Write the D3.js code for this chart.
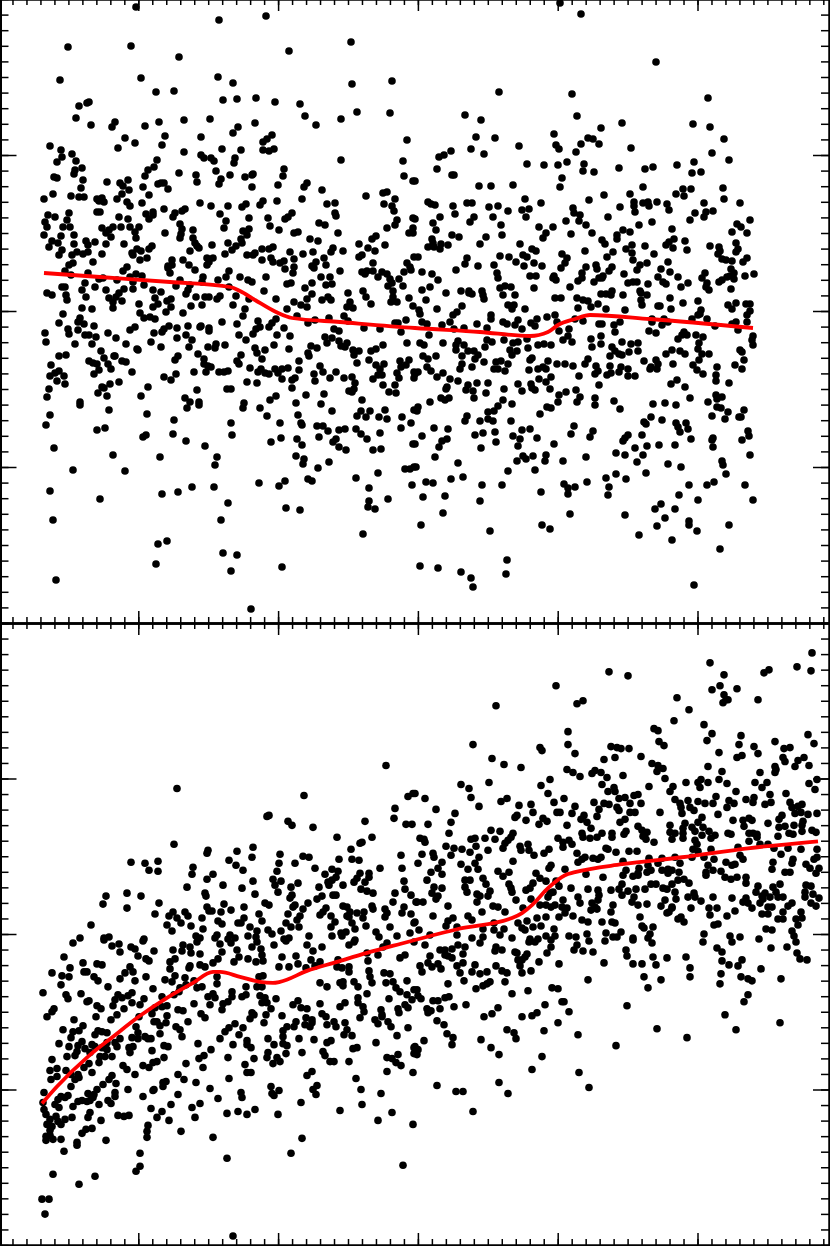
<!DOCTYPE html>
<html>
<head>
<meta charset="utf-8">
<script src="https://cdn.jsdelivr.net/npm/d3@7"></script>
<style>
	html, body { margin: 0; padding: 0; background: #fff; }
	svg { display: block; }
</style>
</head>
<body>
<div id="chart"></div>
<script>
// values, the chart has no labels so the units are arbitrary
const xMajorTicks = [-1.5, 138.3, 278.1, 417.9, 557.7, 697.5];
const yMajorTicks = [-156, 0, 156];

const topCurveX = [44, 100, 170, 230, 240, 255, 276, 292, 340, 415, 480, 530, 548, 558, 575, 590, 650, 753];
const topCurveY = [38, 34, 29, 24, 20, 11, -1, -7, -11, -17, -21, -25, -21, -14, -8, -4, -8, -17];

const bottomCurveX = [42, 57, 88, 113, 140, 167, 193, 213, 220, 240, 260, 273, 280, 307, 337, 367, 400, 415, 458, 512, 522, 532, 548, 565, 575, 622, 682, 748, 818];
const bottomCurveY = [-170, -153, -123, -103, -82, -64, -49, -38, -38, -43, -48, -49, -48, -37, -28, -19, -10, -6, 5, 16, 21, 29, 46, 59, 62, 70, 77, 86, 93];

const topScatter = [
[136,304],[219,291],[266,295],[68,264],[131,265],[179,254],[289,260],[351,269],[60,231],[141,233],[218,234],[233,228],[352,227],[392,230],[156,219],[174,220],[79,205],[87,208],[89,209],[223,211],[237,212],[256,213],[275,209],[300,207],[357,199],[390,198],[76,193],[91,186],[112,184],[115,189],[145,185],[159,189],[184,191],[210,192],[255,188],[238,184],[233,178],[305,195],[316,186],[341,192],[125,173],[135,168],[118,163],[165,175],[162,166],[201,174],[50,165],[61,161],[62,154],[57,149],[72,157],[76,150],[82,143],[75,141],[74,137],[54,134],[57,133],[83,131],[81,123],[53,117],[44,112],[71,115],[79,114],[84,114],[107,129],[120,128],[123,125],[128,131],[129,121],[122,117],[117,112],[97,112],[102,113],[99,110],[104,109],[143,124],[149,116],[145,135],[148,141],[154,144],[157,151],[184,159],[179,138],[158,127],[161,128],[164,128],[168,122],[196,136],[197,129],[201,156],[204,153],[211,153],[214,150],[216,140],[230,136],[222,162],[235,153],[234,148],[241,161],[221,132],[219,127],[245,134],[252,136],[253,137],[252,124],[263,169],[267,172],[272,176],[263,161],[269,160],[274,162],[284,142],[283,135],[278,126],[307,128],[304,124],[322,121],[302,112],[341,151],[403,150],[404,135],[413,130],[407,171],[366,115],[383,118],[387,119],[395,112],[327,107],[335,108],[263,110],[260,106],[277,110],[246,107],[242,104],[228,105],[211,105],[200,108],[185,102],[182,100],[175,98],[173,94],[164,102],[142,108],[127,109],[130,105],[97,99],[100,99],[69,98],[48,96],[55,94],[45,89],[47,84],[67,91],[63,84],[70,84],[119,94],[128,92],[146,97],[149,92],[153,99],[153,96],[220,97],[226,90],[224,83],[249,93],[268,93],[270,85],[285,92],[288,94],[292,98],[335,98],[336,95],[384,107],[392,105],[394,100],[397,91],[395,86],[387,83],[413,93],[319,88],[325,86],[279,81],[294,78],[298,79],[338,78],[180,87],[182,82],[181,77],[180,73],[193,81],[165,78],[139,84],[130,84],[135,79],[136,73],[121,84],[113,84],[109,81],[106,78],[111,74],[102,83],[44,76],[61,75],[74,76],[52,70],[58,68],[49,64],[62,61],[59,56],[74,67],[86,70],[88,66],[95,69],[106,67],[124,67],[72,56],[77,59],[83,57],[88,59],[102,57],[93,49],[132,58],[133,56],[137,62],[141,60],[140,51],[147,53],[149,62],[152,65],[193,73],[195,68],[197,65],[199,63],[190,60],[212,66],[228,68],[232,61],[236,65],[241,72],[242,68],[243,80],[249,82],[247,76],[225,57],[247,56],[253,56],[255,58],[262,62],[269,62],[273,64],[290,59],[294,52],[310,72],[318,70],[313,59],[303,57],[333,63],[331,59],[343,60],[324,53],[359,67],[372,72],[376,75],[385,66],[368,63],[375,60],[409,78],[413,83],[413,78],[362,56],[359,54],[373,48],[414,54],[172,51],[168,45],[172,46],[168,43],[170,38],[183,51],[189,46],[195,41],[207,46],[207,53],[213,53],[209,49],[229,40],[262,51],[271,53],[273,49],[280,48],[284,50],[285,42],[294,44],[293,38],[312,45],[316,49],[314,43],[326,46],[340,40],[127,44],[123,40],[65,40],[69,46],[73,48],[88,38],[71,36],[362,39],[367,40],[365,37],[373,40],[378,34],[382,39],[387,37],[390,32],[404,39],[407,48],[410,44],[411,41],[399,32],[321,34],[330,34],[312,28],[266,34],[240,34],[248,31],[252,29],[226,34],[218,31],[203,34],[202,29],[180,31],[130,34],[136,37],[142,35],[133,29],[103,33],[99,32],[117,31],[85,28],[62,24],[65,24],[95,24],[82,21],[144,26],[133,22],[124,22],[119,18],[106,21],[153,21],[161,19],[176,25],[190,26],[188,21],[186,17],[196,14],[205,14],[209,14],[220,15],[217,12],[229,24],[236,15],[264,20],[287,27],[291,28],[305,23],[326,26],[332,27],[312,17],[307,12],[348,18],[363,20],[366,14],[388,25],[392,28],[403,25],[393,20],[393,14],[391,9],[397,9],[409,13],[47,18],[52,16],[66,16],[67,11],[86,14],[109,13],[116,14],[113,9],[122,10],[139,7],[155,13],[158,7],[153,4],[167,10],[171,12],[171,4],[191,5],[202,6],[233,6],[245,2],[249,12],[276,12],[294,9],[301,6],[307,4],[322,11],[328,14],[331,11],[350,9],[347,4],[353,3],[371,7],[82,3],[92,2],[113,3],[287,2],[413,5],
[560,308],[581,297],[656,249],[499,219],[572,217],[708,213],[465,196],[481,191],[577,195],[601,183],[622,188],[693,187],[710,184],[554,177],[476,174],[495,173],[588,173],[593,172],[599,167],[581,167],[724,172],[519,165],[471,162],[556,166],[559,162],[631,163],[451,160],[444,156],[439,154],[484,157],[576,159],[712,158],[729,151],[694,149],[527,147],[544,146],[558,146],[567,149],[584,147],[677,146],[619,143],[645,142],[653,144],[583,140],[594,139],[437,142],[452,136],[454,136],[692,138],[701,139],[562,133],[560,124],[479,125],[491,125],[513,126],[415,130],[643,124],[723,123],[691,122],[683,122],[676,117],[684,115],[630,117],[604,116],[525,112],[589,111],[724,112],[541,108],[428,109],[431,107],[435,106],[467,108],[472,108],[453,105],[489,104],[498,105],[634,109],[634,105],[643,108],[648,109],[649,105],[657,109],[667,107],[669,101],[704,108],[740,108],[620,104],[573,103],[574,98],[580,96],[635,99],[522,101],[529,102],[508,100],[455,97],[440,94],[493,94],[526,94],[474,94],[470,89],[433,88],[436,81],[415,92],[608,94],[713,100],[706,99],[704,94],[695,98],[690,91],[579,90],[586,86],[566,90],[501,86],[502,76],[539,84],[553,84],[546,78],[543,73],[571,77],[592,78],[623,81],[630,79],[617,76],[617,72],[639,86],[652,89],[672,82],[750,91],[737,87],[741,84],[732,79],[747,78],[452,76],[459,74],[486,74],[480,67],[432,72],[433,68],[428,64],[434,64],[440,62],[441,67],[448,66],[520,67],[532,62],[536,60],[602,71],[605,67],[626,62],[632,66],[632,58],[645,65],[674,72],[669,69],[666,66],[673,63],[685,70],[687,61],[710,65],[736,68],[738,62],[736,59],[719,64],[720,60],[718,57],[722,52],[726,51],[732,50],[418,54],[467,53],[465,47],[478,45],[500,55],[509,54],[516,49],[523,56],[527,54],[524,45],[534,48],[542,45],[494,46],[585,60],[562,57],[567,53],[565,48],[561,43],[586,44],[596,46],[597,42],[613,59],[607,54],[612,44],[609,40],[654,57],[633,51],[647,48],[640,46],[637,41],[668,49],[661,42],[624,37],[670,39],[747,53],[743,49],[731,42],[734,38],[754,37],[745,35],[727,34],[730,35],[734,32],[719,29],[722,31],[705,38],[702,33],[678,34],[658,34],[663,29],[666,27],[422,39],[432,37],[456,41],[438,31],[497,38],[498,33],[530,35],[536,35],[553,33],[556,31],[554,35],[582,38],[582,33],[578,30],[603,35],[599,33],[594,29],[602,33],[628,28],[633,29],[637,29],[648,27],[688,28],[681,24],[707,28],[706,24],[709,21],[731,22],[430,24],[422,21],[446,18],[461,20],[469,20],[469,18],[472,17],[482,20],[483,16],[484,12],[500,23],[505,25],[511,24],[503,16],[515,16],[534,23],[570,24],[555,13],[561,13],[426,11],[577,13],[583,11],[588,10],[601,17],[606,17],[612,20],[611,16],[623,16],[640,20],[641,18],[647,16],[641,11],[642,6],[670,13],[683,8],[698,10],[462,5],[508,6],[514,6],[591,4],[598,7],[578,3],[606,2],[658,5],[660,5],[671,2],[728,6],[736,8],[746,7],[750,7],[437,2],[525,2],[512,2],[625,1],[701,1],[732,2],[750,0],[419,1],
[63,-3],[80,-7],[84,-13],[78,-11],[78,-19],[59,-12],[94,-15],[68,-18],[69,-23],[45,-22],[46,-31],[85,-24],[89,-24],[96,-26],[108,-22],[116,-27],[75,-33],[92,-33],[126,-33],[130,-19],[135,-16],[140,-2],[144,-7],[150,-6],[155,-8],[166,-1],[183,-2],[154,-22],[162,-21],[164,-18],[169,-15],[177,-17],[188,-15],[200,-16],[201,-15],[209,-17],[209,-20],[222,-11],[243,-5],[237,-13],[258,-10],[186,-24],[192,-29],[177,-27],[151,-31],[137,-38],[138,-39],[161,-36],[189,-36],[208,-36],[216,-33],[215,-37],[225,-34],[239,-24],[246,-29],[253,-23],[256,-18],[260,-16],[269,-16],[272,-12],[276,-8],[284,-17],[277,-24],[290,-25],[274,-34],[289,-38],[255,-37],[257,-42],[265,-39],[262,-48],[308,-12],[315,-9],[297,-5],[329,-7],[344,-5],[348,-10],[364,-17],[380,-18],[395,-12],[398,-12],[406,-9],[401,-21],[334,-18],[339,-20],[325,-26],[332,-27],[327,-32],[339,-30],[347,-32],[341,-35],[345,-36],[311,-35],[317,-37],[308,-42],[309,-45],[299,-50],[299,-59],[353,-39],[359,-40],[354,-44],[357,-52],[371,-40],[376,-38],[383,-34],[407,-32],[369,-49],[376,-54],[384,-53],[380,-58],[400,-50],[409,-49],[406,-54],[401,-56],[414,-61],[397,-62],[399,-67],[414,-67],[382,-64],[378,-64],[373,-68],[383,-74],[395,-74],[389,-81],[396,-82],[59,-45],[66,-44],[51,-54],[59,-60],[55,-62],[50,-65],[64,-65],[57,-70],[65,-73],[49,-78],[47,-86],[80,-91],[80,-94],[50,-104],[46,-114],[54,-137],[73,-159],[50,-180],[53,-209],[56,-269],[89,-50],[93,-52],[97,-53],[94,-63],[99,-59],[104,-47],[101,-40],[114,-45],[115,-45],[108,-53],[111,-58],[122,-50],[126,-51],[132,-61],[119,-71],[110,-73],[102,-76],[104,-77],[98,-82],[107,-85],[109,-99],[97,-119],[105,-117],[113,-144],[125,-160],[100,-188],[148,-76],[141,-85],[147,-103],[143,-126],[146,-124],[160,-146],[162,-183],[178,-181],[192,-176],[214,-176],[228,-192],[221,-209],[158,-233],[167,-230],[156,-253],[223,-242],[237,-244],[231,-260],[282,-256],[251,-298],[164,-66],[171,-69],[176,-63],[175,-49],[178,-45],[198,-43],[204,-48],[204,-53],[208,-55],[211,-56],[206,-61],[194,-61],[219,-61],[224,-61],[228,-60],[237,-50],[239,-53],[241,-44],[250,-57],[247,-71],[257,-72],[258,-61],[261,-58],[265,-62],[269,-63],[275,-58],[282,-58],[288,-57],[278,-62],[282,-68],[295,-67],[292,-69],[292,-77],[197,-79],[185,-87],[190,-91],[187,-97],[199,-91],[199,-94],[227,-78],[231,-78],[244,-92],[243,-97],[276,-85],[270,-89],[260,-97],[267,-105],[174,-109],[173,-123],[186,-130],[205,-135],[217,-146],[215,-154],[231,-112],[232,-124],[280,-112],[281,-127],[271,-131],[296,-92],[306,-84],[298,-104],[301,-112],[302,-114],[297,-128],[302,-134],[296,-145],[304,-148],[303,-153],[318,-157],[329,-151],[259,-172],[279,-175],[285,-170],[308,-168],[312,-170],[286,-197],[300,-199],[314,-63],[315,-70],[320,-55],[323,-61],[330,-67],[336,-61],[344,-67],[352,-66],[355,-72],[354,-78],[349,-80],[352,-81],[324,-83],[321,-93],[332,-100],[362,-89],[361,-100],[357,-105],[366,-106],[370,-100],[385,-99],[379,-106],[387,-108],[402,-106],[411,-112],[401,-117],[414,-99],[317,-115],[323,-115],[328,-120],[319,-126],[339,-119],[345,-118],[356,-118],[361,-123],[367,-128],[380,-122],[336,-128],[333,-131],[339,-136],[346,-139],[373,-139],[381,-138],[413,-133],[405,-158],[410,-158],[414,-156],[378,-162],[356,-167],[412,-174],[369,-177],[369,-190],[368,-196],[375,-198],[388,-188],[363,-223],
[420,-3],[422,-11],[427,-13],[429,-24],[450,-11],[453,-4],[457,-1],[442,-14],[454,-18],[464,-17],[477,-13],[487,-17],[491,-4],[491,-8],[503,-11],[507,-13],[518,-9],[515,-14],[522,-18],[531,-12],[537,-8],[535,-15],[547,-6],[555,-4],[557,-11],[559,-20],[569,-18],[568,-25],[563,-29],[572,-31],[575,-8],[583,-10],[599,-13],[602,-13],[614,-14],[620,-11],[615,-21],[649,-20],[656,-22],[652,-8],[652,-11],[662,-14],[664,-8],[668,-11],[692,-8],[698,-4],[700,-3],[707,-8],[715,-15],[732,-13],[736,-11],[738,-19],[747,-4],[747,-11],[682,-24],[684,-21],[687,-24],[678,-28],[696,-24],[703,-26],[699,-32],[698,-38],[753,-25],[752,-29],[753,-34],[527,-28],[528,-37],[420,-32],[424,-34],[443,-32],[458,-30],[456,-34],[456,-39],[464,-34],[485,-36],[487,-29],[492,-31],[504,-29],[513,-32],[518,-31],[538,-34],[544,-33],[551,-34],[591,-28],[592,-36],[601,-25],[601,-33],[622,-31],[631,-33],[638,-32],[612,-36],[615,-40],[619,-43],[610,-45],[622,-44],[629,-41],[638,-40],[666,-43],[672,-39],[680,-40],[685,-43],[702,-43],[709,-43],[699,-49],[740,-39],[742,-41],[744,-49],[436,-45],[423,-45],[428,-48],[462,-45],[462,-53],[460,-58],[468,-40],[474,-40],[478,-44],[475,-48],[472,-56],[484,-51],[510,-39],[512,-44],[517,-40],[530,-49],[532,-47],[496,-51],[501,-50],[508,-53],[494,-58],[498,-58],[505,-60],[548,-50],[557,-53],[565,-53],[573,-55],[585,-53],[588,-48],[596,-55],[610,-55],[621,-56],[628,-58],[619,-61],[644,-50],[651,-56],[656,-49],[658,-53],[650,-58],[657,-58],[673,-53],[693,-54],[697,-59],[703,-63],[717,-56],[735,-54],[742,-58],[415,-63],[418,-61],[427,-56],[431,-60],[437,-66],[443,-62],[450,-68],[458,-70],[529,-59],[538,-58],[543,-56],[546,-58],[551,-66],[539,-68],[546,-71],[579,-65],[595,-63],[598,-60],[607,-64],[611,-62],[628,-65],[635,-65],[599,-74],[716,-64],[716,-70],[729,-72],[671,-73],[677,-69],[685,-76],[468,-74],[477,-72],[466,-79],[473,-80],[488,-72],[486,-82],[447,-76],[446,-78],[504,-78],[518,-73],[522,-80],[531,-73],[532,-77],[535,-79],[550,-78],[559,-84],[566,-81],[576,-79],[580,-86],[595,-87],[595,-94],[441,-87],[445,-89],[449,-87],[430,-91],[474,-87],[503,-89],[498,-95],[494,-100],[488,-101],[512,-93],[558,-91],[577,-91],[614,-90],[620,-98],[653,-93],[665,-92],[676,-94],[690,-87],[708,-91],[716,-84],[717,-88],[722,-86],[717,-96],[721,-97],[728,-101],[744,-99],[712,-105],[725,-108],[739,-106],[741,-106],[418,-96],[417,-100],[547,-96],[551,-97],[540,-103],[467,-105],[465,-110],[488,-108],[493,-110],[480,-110],[511,-110],[651,-106],[644,-111],[646,-113],[662,-109],[676,-112],[678,-116],[680,-121],[686,-112],[688,-118],[434,-117],[448,-118],[495,-121],[522,-119],[530,-118],[574,-115],[593,-120],[590,-126],[628,-124],[625,-127],[623,-130],[642,-124],[691,-128],[748,-120],[749,-125],[742,-129],[713,-127],[712,-129],[713,-136],[422,-125],[447,-128],[442,-130],[439,-136],[475,-124],[483,-122],[481,-137],[496,-131],[513,-125],[520,-128],[518,-135],[537,-127],[554,-133],[571,-123],[647,-135],[659,-134],[675,-134],[635,-137],[415,-133],[435,-146],[616,-142],[625,-144],[643,-144],[637,-151],[750,-144],[517,-150],[523,-145],[526,-148],[533,-145],[546,-144],[545,-150],[563,-150],[586,-146],[722,-150],[723,-154],[458,-152],[416,-156],[668,-153],[681,-156],[508,-160],[535,-159],[646,-162],[726,-163],[463,-166],[451,-168],[616,-163],[606,-167],[626,-168],[426,-171],[433,-172],[482,-174],[502,-174],[564,-173],[568,-177],[575,-176],[587,-171],[609,-176],[689,-174],[707,-174],[714,-171],[745,-174],[541,-181],[568,-183],[608,-184],[679,-184],[423,-186],[445,-185],[480,-190],[698,-189],[753,-189],[661,-193],[655,-198],[675,-198],[443,-202],[570,-203],[625,-204],[665,-207],[689,-210],[689,-214],[421,-214],[542,-214],[550,-218],[657,-215],[729,-214],[490,-220],[697,-220],[639,-224],[672,-229],[720,-238],[507,-249],[506,-263],[420,-255],[438,-257],[461,-261],[471,-267],[473,-276],[694,-274]
];

const bottomScatter = [
[386,169],[177,146],[304,139],[408,138],[413,141],[395,126],[394,116],[267,118],[269,119],[288,113],[292,109],[313,107],[365,113],[406,110],[412,110],[337,97],[372,97],[360,91],[362,92],[174,90],[351,85],[208,84],[207,81],[237,83],[253,87],[252,77],[280,80],[303,78],[309,77],[401,79],[229,74],[339,75],[352,75],[359,74],[131,72],[145,71],[158,73],[279,71],[295,71],[236,69],[193,67],[149,64],[158,63],[315,66],[380,66],[402,66],[243,64],[277,63],[332,65],[338,63],[192,60],[213,60],[325,60],[360,61],[369,61],[207,55],[369,57],[273,55],[281,53],[253,53],[336,57],[332,54],[328,52],[329,49],[357,56],[354,52],[365,52],[404,53],[275,49],[223,49],[298,51],[343,49],[187,47],[242,46],[291,47],[319,47],[361,45],[367,43],[373,41],[405,45],[278,42],[205,41],[206,38],[255,40],[333,39],[336,39],[395,41],[411,39],[292,39],[290,36],[322,38],[317,35],[127,41],[141,38],[106,38],[103,30],[393,32],[265,31],[269,29],[308,31],[295,29],[293,27],[159,31],[224,30],[207,27],[231,24],[209,23],[212,23],[221,22],[244,27],[303,25],[326,26],[323,22],[320,19],[343,28],[347,27],[372,28],[373,25],[404,27],[402,21],[385,25],[387,21],[385,17],[416,32],[127,26],[185,22],[188,18],[173,22],[169,18],[177,16],[181,11],[155,20],[202,16],[259,20],[262,13],[288,20],[300,18],[297,14],[331,18],[335,12],[347,18],[350,22],[349,17],[357,21],[364,22],[363,16],[352,11],[355,5],[411,20],[414,11],[218,13],[222,10],[238,11],[241,11],[244,16],[286,11],[91,9],[167,9],[191,8],[291,7],[299,7],[250,7],[203,5],[331,7],[366,8],[390,7],[172,3],[257,3],[268,4],[272,0],[281,3],[346,2],[341,1],[376,2],[410,1],[309,-2],[332,-2],[397,-2],[342,-2],[196,-2],[200,-4],[217,-1],[215,-4],[230,-1],[235,-4],[228,-5],[248,-2],[256,-3],[289,-4],[284,-5],[80,-4],[109,-3],[104,-4],[144,-5],[379,-3],[355,-6],
[812,282],[710,272],[769,265],[764,262],[797,268],[811,264],[609,263],[628,259],[724,260],[556,249],[720,249],[712,245],[737,246],[724,240],[728,235],[723,232],[726,235],[677,237],[758,235],[583,234],[577,231],[496,229],[689,225],[674,214],[704,210],[654,206],[658,204],[568,203],[712,201],[741,199],[808,200],[659,193],[664,189],[707,194],[775,193],[814,191],[739,190],[568,190],[473,190],[540,187],[542,184],[611,188],[617,187],[621,186],[629,186],[754,188],[784,186],[790,187],[575,181],[719,182],[758,181],[641,178],[615,177],[604,175],[492,176],[737,177],[742,179],[783,177],[785,173],[804,177],[798,174],[795,168],[504,170],[521,167],[652,171],[658,169],[663,166],[657,163],[708,168],[809,169],[775,168],[776,165],[775,162],[567,165],[573,162],[580,158],[592,161],[595,164],[601,162],[607,157],[623,159],[722,163],[760,162],[665,156],[550,155],[489,152],[461,150],[469,146],[541,149],[602,150],[719,155],[701,155],[698,152],[708,152],[700,147],[686,152],[727,151],[755,152],[767,152],[762,147],[809,151],[817,155],[815,145],[649,148],[673,148],[670,143],[614,147],[608,143],[615,143],[736,143],[786,141],[415,141],[425,136],[471,137],[548,141],[507,136],[501,133],[564,136],[619,136],[625,137],[634,139],[638,140],[716,138],[770,140],[675,135],[746,135],[754,137],[753,132],[554,132],[594,132],[630,131],[641,131],[604,131],[609,130],[479,128],[519,129],[531,130],[575,128],[617,127],[619,124],[698,133],[705,131],[713,131],[688,134],[680,131],[681,127],[690,127],[694,124],[729,134],[734,131],[765,130],[771,132],[790,132],[802,130],[798,128],[792,127],[727,127],[436,125],[455,121],[533,122],[557,122],[560,122],[572,121],[599,125],[597,118],[635,122],[630,122],[660,122],[682,121],[718,120],[795,121],[801,122],[817,121],[808,120],[782,119],[779,115],[515,117],[517,119],[526,114],[543,116],[547,113],[539,110],[584,119],[581,115],[587,112],[625,115],[620,112],[451,112],[428,110],[567,109],[591,106],[638,108],[702,117],[698,112],[703,107],[733,114],[743,114],[749,116],[752,114],[744,108],[670,109],[685,111],[692,107],[683,106],[768,111],[779,107],[785,108],[794,109],[803,113],[802,109],[802,103],[491,104],[500,103],[449,101],[626,103],[624,100],[642,104],[647,102],[643,98],[646,95],[670,102],[675,101],[672,95],[683,101],[683,96],[695,103],[702,99],[709,103],[715,99],[711,96],[728,101],[731,100],[749,101],[753,101],[757,100],[749,93],[757,97],[778,98],[789,101],[793,100],[812,104],[816,102],[582,101],[583,97],[590,96],[597,97],[602,101],[612,101],[612,97],[513,101],[511,97],[508,94],[505,91],[503,86],[475,96],[471,95],[485,96],[495,95],[420,96],[424,95],[425,92],[558,96],[563,92],[569,94],[572,90],[563,87],[654,92],[695,94],[697,90],[693,85],[698,83],[446,88],[454,86],[462,85],[470,82],[476,88],[488,84],[520,88],[528,90],[521,84],[529,84],[549,85],[544,81],[534,79],[606,86],[608,85],[577,81],[616,82],[629,83],[637,83],[738,87],[760,90],[768,90],[774,86],[711,85],[788,86],[801,85],[817,85],[422,80],[433,81],[434,77],[451,79],[479,77],[475,71],[478,65],[740,79],[743,75],[781,80],[817,77],[814,75],[442,72],[418,71],[461,70],[468,65],[513,73],[593,76],[598,75],[601,77],[585,77],[582,75],[578,72],[551,69],[549,66],[438,66],[431,62],[442,60],[623,73],[649,76],[662,76],[675,77],[680,71],[692,77],[704,77],[714,75],[726,72],[732,69],[735,70],[773,72],[772,65],[793,75],[792,71],[806,70],[810,66],[819,66],[816,61],[648,69],[651,64],[647,62],[639,66],[638,61],[626,64],[623,59],[633,58],[658,71],[662,64],[668,65],[672,64],[668,61],[679,62],[708,69],[706,62],[706,59],[713,64],[721,63],[785,62],[790,62],[565,65],[586,60],[498,63],[503,58],[509,62],[536,61],[540,56],[546,53],[603,57],[638,59],[725,57],[731,55],[737,57],[746,57],[746,51],[465,54],[470,54],[427,54],[483,56],[486,50],[509,50],[533,51],[530,46],[526,44],[678,54],[684,55],[689,51],[672,50],[651,50],[656,50],[663,46],[622,50],[619,45],[758,48],[773,47],[780,50],[806,49],[811,48],[465,47],[467,42],[434,47],[442,46],[432,41],[490,43],[488,38],[477,40],[480,38],[511,46],[512,42],[559,48],[556,53],[571,46],[588,45],[598,44],[599,39],[611,44],[628,43],[636,45],[622,39],[645,45],[667,45],[675,42],[694,41],[688,37],[695,37],[701,33],[756,42],[762,38],[765,41],[770,37],[763,35],[776,42],[778,37],[783,37],[805,42],[805,37],[813,40],[819,36],[550,41],[553,42],[548,37],[438,38],[436,35],[516,34],[531,35],[563,34],[578,37],[580,31],[598,34],[592,31],[595,27],[591,24],[597,25],[634,37],[632,32],[638,29],[647,30],[665,34],[661,28],[672,27],[676,35],[713,37],[732,36],[746,36],[743,32],[748,31],[752,26],[760,31],[768,27],[772,27],[788,28],[792,31],[811,31],[816,28],[417,32],[423,32],[448,28],[477,32],[493,28],[498,27],[523,26],[540,29],[546,29],[551,27],[555,29],[562,27],[567,26],[565,21],[613,29],[611,22],[691,26],[709,26],[717,26],[710,19],[735,23],[762,20],[768,20],[778,15],[783,15],[783,22],[801,22],[802,16],[796,15],[798,9],[433,18],[482,22],[468,18],[472,14],[453,16],[448,13],[446,8],[415,12],[419,4],[505,22],[527,13],[518,11],[522,6],[525,4],[537,16],[546,17],[559,17],[573,18],[582,14],[588,12],[602,12],[612,12],[615,11],[640,17],[642,8],[644,6],[653,7],[667,21],[672,26],[681,17],[678,15],[684,12],[669,22],[727,18],[714,9],[718,10],[766,5],[772,4],[457,7],[533,7],[541,8],[494,11],[494,4],[504,5],[500,-1],[483,5],[483,-3],[457,-1],[472,-4],[554,5],[546,-2],[555,-2],[569,-2],[576,-3],[587,0],[606,1],[613,-3],[617,-3],[621,2],[650,0],[648,-4],[704,0],[730,-2],[740,-3],[792,3],[794,-2],[759,-5],[512,-4],[530,-5],[538,-5],[633,-4],[430,-1],
[73,-9],[104,-6],[143,-7],[112,-12],[119,-10],[120,-18],[131,-13],[135,-15],[138,-22],[154,-17],[146,-25],[149,-27],[173,-16],[183,-11],[182,-17],[190,-13],[191,-19],[200,-20],[197,-8],[220,-10],[222,-18],[218,-25],[213,-29],[231,-9],[237,-16],[234,-28],[239,-23],[252,-13],[257,-8],[261,-15],[262,-21],[248,-25],[256,-28],[263,-27],[274,-11],[286,-7],[282,-23],[279,-33],[289,-33],[296,-22],[298,-30],[306,-34],[307,-11],[313,-17],[322,-13],[311,-26],[320,-28],[315,-32],[338,-26],[349,-11],[354,-8],[337,-33],[342,-34],[349,-33],[349,-38],[367,-19],[368,-27],[383,-13],[378,-21],[387,-9],[400,-24],[405,-21],[414,-8],[369,-37],[370,-43],[372,-49],[384,-39],[390,-40],[386,-49],[52,-39],[83,-29],[97,-30],[102,-31],[70,-34],[64,-23],[62,-42],[69,-43],[61,-51],[84,-38],[87,-38],[94,-43],[98,-47],[108,-53],[130,-33],[133,-38],[125,-39],[120,-45],[135,-47],[146,-43],[153,-55],[170,-28],[175,-25],[170,-35],[190,-32],[189,-34],[200,-31],[205,-33],[175,-42],[165,-46],[172,-48],[185,-44],[186,-51],[194,-47],[180,-54],[197,-54],[202,-53],[217,-43],[217,-50],[43,-59],[81,-60],[66,-61],[68,-65],[87,-68],[89,-67],[97,-72],[101,-75],[132,-59],[128,-62],[118,-61],[115,-66],[122,-64],[113,-72],[132,-69],[140,-71],[144,-65],[124,-75],[117,-81],[111,-86],[96,-83],[54,-75],[52,-78],[47,-83],[74,-86],[83,-92],[79,-97],[73,-98],[71,-104],[63,-96],[59,-110],[69,-113],[78,-112],[82,-108],[77,-118],[75,-122],[85,-115],[67,-123],[95,-101],[98,-97],[102,-98],[107,-99],[92,-111],[95,-113],[107,-109],[102,-114],[107,-116],[120,-105],[115,-109],[117,-113],[90,-119],[100,-123],[105,-123],[112,-123],[99,-129],[89,-130],[84,-134],[92,-139],[52,-126],[50,-137],[57,-135],[66,-137],[57,-143],[51,-146],[71,-141],[78,-141],[75,-146],[79,-144],[71,-153],[123,-132],[127,-136],[135,-141],[143,-132],[149,-134],[129,-114],[133,-113],[130,-119],[132,-104],[138,-99],[138,-105],[136,-93],[145,-103],[148,-105],[151,-105],[139,-83],[152,-80],[154,-88],[157,-88],[166,-89],[160,-92],[160,-100],[152,-117],[164,-112],[168,-113],[164,-124],[157,-128],[153,-129],[162,-63],[167,-72],[162,-73],[155,-74],[167,-82],[178,-76],[183,-77],[174,-61],[179,-58],[194,-70],[188,-88],[201,-80],[205,-84],[210,-71],[213,-60],[208,-63],[215,-64],[176,-93],[180,-96],[182,-103],[198,-110],[211,-116],[204,-122],[199,-125],[186,-130],[203,-134],[220,-105],[233,-111],[228,-124],[222,-76],[223,-70],[228,-68],[232,-58],[232,-63],[242,-63],[246,-61],[246,-53],[259,-43],[263,-42],[257,-53],[262,-53],[260,-62],[265,-64],[262,-69],[267,-69],[276,-65],[271,-75],[252,-79],[254,-81],[250,-85],[266,-81],[264,-89],[282,-82],[243,-94],[235,-90],[229,-94],[225,-98],[239,-101],[247,-107],[247,-111],[251,-114],[254,-125],[268,-105],[274,-111],[268,-119],[267,-124],[277,-124],[280,-128],[273,-130],[286,-120],[283,-110],[287,-112],[283,-103],[283,-97],[287,-93],[294,-93],[296,-88],[299,-105],[302,-119],[293,-71],[298,-67],[301,-74],[307,-75],[306,-84],[312,-86],[305,-91],[310,-93],[312,-89],[314,-106],[320,-70],[322,-80],[326,-83],[327,-91],[320,-49],[327,-53],[334,-88],[336,-93],[331,-107],[327,-109],[323,-118],[325,-122],[330,-128],[334,-128],[340,-49],[343,-48],[343,-52],[340,-73],[345,-69],[345,-89],[347,-96],[344,-101],[352,-102],[353,-115],[357,-114],[349,-128],[354,-48],[358,-53],[358,-64],[358,-69],[363,-73],[364,-78],[360,-84],[367,-60],[375,-86],[378,-90],[382,-83],[388,-88],[391,-93],[397,-102],[376,-109],[387,-124],[392,-125],[398,-121],[396,-129],[401,-132],[387,-138],[381,-76],[382,-81],[389,-65],[398,-75],[399,-79],[405,-71],[408,-74],[393,-48],[396,-54],[400,-58],[407,-47],[407,-61],[412,-66],[408,-94],[414,-56],[414,-114],[414,-120],[413,-139],[44,-159],[43,-169],[44,-176],[46,-181],[50,-186],[47,-191],[52,-193],[50,-197],[46,-203],[50,-202],[46,-207],[53,-206],[61,-163],[68,-162],[65,-164],[58,-166],[55,-171],[59,-174],[73,-173],[78,-168],[82,-167],[88,-160],[90,-167],[93,-164],[94,-161],[87,-168],[97,-156],[103,-151],[109,-146],[112,-142],[116,-150],[115,-159],[115,-163],[108,-167],[111,-170],[99,-171],[128,-156],[143,-163],[56,-183],[58,-188],[61,-191],[65,-186],[72,-184],[90,-179],[88,-184],[101,-187],[118,-182],[124,-183],[129,-182],[61,-206],[82,-200],[86,-196],[92,-195],[77,-209],[77,-212],[64,-218],[106,-207],[53,-241],[42,-266],[49,-266],[45,-281],[79,-251],[95,-243],[140,-220],[140,-233],[136,-238],[148,-192],[147,-198],[147,-204],[151,-175],[162,-178],[157,-184],[169,-187],[171,-171],[154,-156],[153,-157],[163,-149],[166,-148],[163,-153],[178,-161],[178,-141],[184,-146],[196,-149],[210,-155],[218,-165],[200,-170],[192,-174],[195,-184],[181,-198],[213,-204],[227,-225],[227,-180],[238,-178],[247,-181],[255,-176],[241,-159],[242,-164],[229,-145],[245,-131],[247,-139],[251,-139],[271,-153],[272,-160],[274,-162],[279,-157],[278,-181],[301,-169],[302,-205],[291,-220],[307,-142],[312,-138],[317,-152],[313,-156],[316,-161],[340,-177],[356,-145],[361,-156],[362,-171],[381,-160],[378,-187],[392,-179],[413,-191],[403,-232],[233,-303],
[425,-11],[440,-16],[445,-16],[452,-15],[458,-11],[465,-13],[463,-20],[480,-9],[496,-13],[495,-17],[502,-16],[515,-18],[517,-19],[527,-20],[525,-23],[518,-26],[522,-26],[547,-19],[551,-13],[574,-16],[577,-11],[583,-17],[593,-18],[529,-8],[535,-8],[551,-6],[589,-7],[605,-7],[633,-6],[626,-16],[627,-22],[652,-9],[703,-8],[732,-8],[796,-8],[717,-14],[722,-18],[771,-14],[787,-13],[797,-19],[800,-25],[807,-26],[653,-23],[667,-24],[686,-23],[742,-26],[722,-27],[729,-31],[738,-32],[633,-30],[642,-30],[656,-31],[604,-29],[559,-30],[539,-28],[690,-34],[761,-35],[430,-22],[445,-21],[448,-22],[452,-24],[428,-29],[420,-32],[432,-33],[438,-30],[441,-35],[422,-38],[457,-32],[463,-29],[460,-39],[475,-31],[472,-38],[480,-40],[487,-38],[496,-32],[502,-37],[507,-39],[520,-32],[522,-39],[531,-37],[644,-43],[661,-46],[648,-54],[690,-43],[721,-40],[720,-50],[741,-43],[748,-45],[752,-47],[781,-45],[588,-46],[464,-47],[448,-50],[490,-48],[487,-50],[483,-52],[476,-55],[505,-48],[528,-57],[512,-60],[552,-54],[558,-55],[417,-56],[418,-62],[421,-65],[445,-64],[449,-63],[433,-67],[438,-67],[454,-73],[466,-71],[440,-75],[427,-75],[431,-77],[428,-79],[748,-61],[744,-68],[627,-72],[545,-71],[562,-68],[564,-68],[569,-78],[498,-74],[492,-80],[484,-83],[537,-79],[532,-82],[522,-83],[725,-81],[780,-89],[437,-87],[444,-91],[558,-89],[657,-95],[736,-96],[507,-96],[514,-99],[516,-105],[544,-97],[447,-100],[453,-104],[452,-111],[578,-101],[687,-104],[424,-107],[481,-106],[491,-114],[616,-112],[415,-113],[418,-116],[417,-121],[499,-121],[542,-123],[532,-136],[579,-139],[499,-149],[508,-160],[589,-154],[437,-152],[456,-158],[463,-158],[473,-178]
];

const width = 830;
const height = 1246;

const x = d3.scaleLinear().domain([0, 830]).range([0, 830]);
const xMinorTicks = d3.range(-1.5, 830, 13.98);
const yMinorTicks = d3.range(-312, 312.1, 15.6);

const svg = d3
	.select('#chart')
	.append('svg')
	.attr('width', width)
	.attr('height', height);

function drawPanel(top, bottom, points, curveX, curveY) {
	const y = d3.scaleLinear().domain([-312, 312]).range([bottom, top]);
	const panel = svg.append('g');

	// the four sides all carry the same ticks, labels off
	const addAxis = function (axis, ticks, size, tx, ty) {
		panel
			.append('g')
			.attr('transform', 'translate(' + tx + ',' + ty + ')')
			.call(axis.tickValues(ticks).tickSize(size).tickSizeOuter(0).tickFormat(''))
			.call(function (g) {
				g.selectAll('line').attr('stroke', '#000').attr('stroke-width', 1.5);
				g.select('.domain').attr('stroke', '#000').attr('stroke-width', 2);
			});
	};

	addAxis(d3.axisBottom(x), xMinorTicks, 6, 0, top);
	addAxis(d3.axisBottom(x), xMajorTicks, 12, 0, top);
	addAxis(d3.axisTop(x), xMinorTicks, 6, 0, bottom);
	addAxis(d3.axisTop(x), xMajorTicks, 12, 0, bottom);
	addAxis(d3.axisRight(y), yMinorTicks, 8, 0.5, 0);
	addAxis(d3.axisRight(y), yMajorTicks, 16, 0.5, 0);
	addAxis(d3.axisLeft(y), yMinorTicks, 8, 829, 0);
	addAxis(d3.axisLeft(y), yMajorTicks, 16, 829, 0);

	panel
		.append('g')
		.selectAll('circle')
		.data(points)
		.join('circle')
		.attr('cx', function (d) { return x(d[0]); })
		.attr('cy', function (d) { return y(d[1]); })
		.attr('r', 3.8)
		.attr('fill', '#000');

	const line = d3
		.line()
		.x(function (d) { return x(d); })
		.y(function (d, i) { return y(curveY[i]); })
		.curve(d3.curveMonotoneX);

	panel
		.append('path')
		.attr('d', line(curveX))
		.attr('fill', 'none')
		.attr('stroke', '#ff0000')
		.attr('stroke-width', 3.8);
}

drawPanel(-1, 623, topScatter, topCurveX, topCurveY);
drawPanel(623, 1245, bottomScatter, bottomCurveX, bottomCurveY);
</script>
</body>
</html>
